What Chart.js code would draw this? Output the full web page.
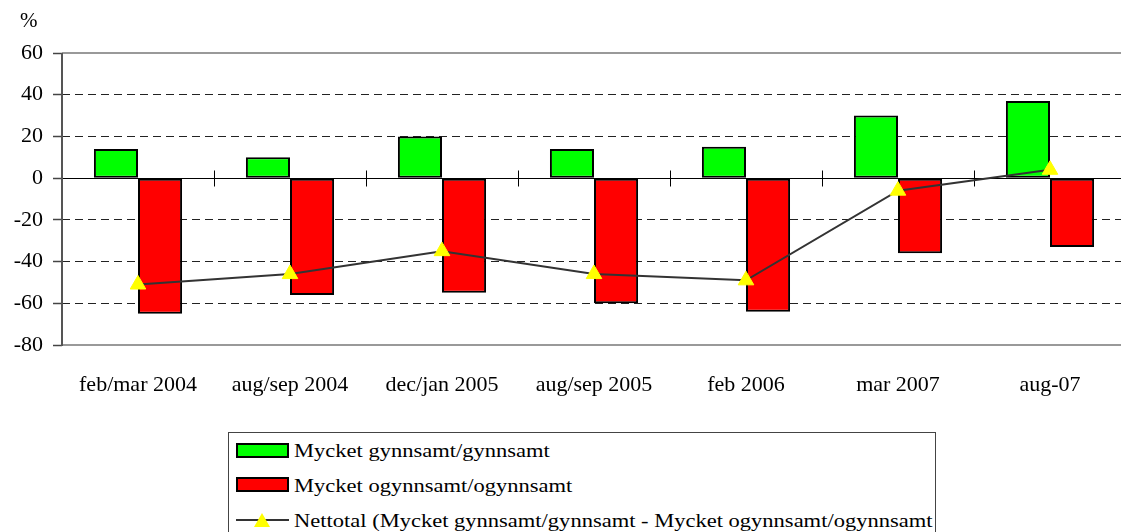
<!DOCTYPE html>
<html>
<head>
<meta charset="utf-8">
<script src="https://cdn.jsdelivr.net/npm/chart.js@4.4.0/dist/chart.umd.min.js"></script>
<style>
  html, body { margin: 0; padding: 0; background: #fff; overflow: hidden; width: 1121px; height: 532px; }
  #wrap { position: absolute; left: 0; top: 0; }
  .txt { position: absolute; font-family: "Liberation Serif", "Times New Roman", serif; color: #000; white-space: nowrap; }
  .leg { font-size: 19px; line-height: 20px; transform: scaleX(1.185); transform-origin: left center; }
  #legendBox { position: absolute; left: 228px; top: 432px; width: 708px; height: 120px; border: 1px solid #444; box-sizing: border-box; }
  .sw { position: absolute; left: 236px; width: 53px; height: 15px; border: 2px solid #000; box-sizing: border-box; }
  #swLine { position: absolute; left: 236px; top: 519px; width: 53px; height: 2px; background: #333; }
  #swTri { position: absolute; left: 254px; top: 513px; width: 0; height: 0; border-left: 8px solid transparent; border-right: 8px solid transparent; border-bottom: 14px solid #ffff00; }
</style>
</head>
<body>
<div id="wrap"><canvas id="grafico" width="1136" height="420"></canvas></div>

<div class="txt" style="left:20px; top:8px; font-size:21px; line-height:24px;">%</div>

<div id="legendBox"></div>
<div class="sw" style="top:443px; background:#00ff00;"></div>
<div class="txt leg" style="left:294px; top:441px;">Mycket gynnsamt/gynnsamt</div>
<div class="sw" style="top:477px; background:#ff0000;"></div>
<div class="txt leg" style="left:294px; top:476px;">Mycket ogynnsamt/ogynnsamt</div>
<div id="swLine"></div>
<div id="swTri"></div>
<div class="txt leg" style="left:294px; top:511px;">Nettotal (Mycket gynnsamt/gynnsamt - Mycket ogynnsamt/ogynnsamt</div>

<script>
// Datos del gráfico
var periodos = ["feb/mar 2004", "aug/sep 2004", "dec/jan 2005", "aug/sep 2005", "feb 2006", "mar 2007", "aug-07"];
var gynnsamt = [14, 10, 20, 14, 15, 30, 37];
var ogynnsamt = [-65, -56, -55, -60, -64, -36, -33];
var nettotal = [-51, -46, -35, -46, -49, -6, 4];
var yTicks = [60, 40, 20, 0, -20, -40, -60, -80];

var fuente = "'Liberation Serif', 'Times New Roman', serif";

// lineas especiales: borde arriba/abajo, linea del cero, marcas de categoria, eje izquierdo
var lineasPlugin = {
  id: "lineas",
  beforeDatasetsDraw: function (chart) {
    var ctx = chart.ctx;
    var area = chart.chartArea;
    var y = chart.scales.y;
    var x = chart.scales.x;
    ctx.save();

    // borde superior e inferior (gris)
    ctx.strokeStyle = "#999";
    ctx.lineWidth = 2;
    [yTicks[0], yTicks[yTicks.length - 1]].forEach(function (v) {
      var py = Math.round(y.getPixelForValue(v));
      ctx.beginPath();
      ctx.moveTo(area.left, py);
      ctx.lineTo(area.right, py);
      ctx.stroke();
    });

    // linea del cero
    var y0 = Math.round(y.getPixelForValue(0)) + 0.5;
    ctx.strokeStyle = "#000";
    ctx.lineWidth = 1;
    ctx.beginPath();
    ctx.moveTo(area.left, y0);
    ctx.lineTo(area.right, y0);
    ctx.stroke();

    // marcas entre categorias sobre el cero
    for (var i = 0; i < periodos.length - 1; i++) {
      var px = Math.round((x.getPixelForTick(i) + x.getPixelForTick(i + 1)) / 2) + 0.5;
      ctx.beginPath();
      ctx.moveTo(px, y0 - 8);
      ctx.lineTo(px, y0 + 8);
      ctx.stroke();
    }

    // eje izquierdo
    ctx.strokeStyle = "#555";
    ctx.lineWidth = 2;
    ctx.beginPath();
    ctx.moveTo(area.left, area.top);
    ctx.lineTo(area.left, area.bottom + 1);
    ctx.stroke();
    ctx.restore();
  }
};

new Chart(document.getElementById("grafico"), {
  type: "bar",
  data: {
    labels: periodos,
    datasets: [
      {
        type: "line",
        label: "Nettotal (Mycket gynnsamt/gynnsamt - Mycket ogynnsamt/ogynnsamt",
        data: nettotal,
        borderColor: "#333",
        borderWidth: 2,
        pointStyle: "triangle",
        pointRadius: 9,
        pointBackgroundColor: "#ffff00",
        pointBorderColor: "#ffff00",
        pointBorderWidth: 1,
        tension: 0,
        order: 0
      },
      {
        label: "Mycket gynnsamt/gynnsamt",
        data: gynnsamt,
        backgroundColor: "#00ff00",
        borderColor: "#000",
        borderWidth: 2,
        borderSkipped: false,
        order: 1
      },
      {
        label: "Mycket ogynnsamt/ogynnsamt",
        data: ogynnsamt,
        backgroundColor: "#ff0000",
        borderColor: "#000",
        borderWidth: 2,
        borderSkipped: false,
        order: 1
      }
    ]
  },
  options: {
    responsive: false,
    animation: false,
    datasets: { bar: { categoryPercentage: 0.58, barPercentage: 1.0 } },
    layout: { padding: { top: 53, left: 0, right: 0, bottom: 0 } },
    plugins: { legend: { display: false }, tooltip: { enabled: false } },
    scales: {
      x: {
        afterFit: function (scale) { scale.height = 75; },
        grid: { display: false, drawTicks: false },
        border: { display: false },
        ticks: { color: "#000", padding: 27, maxRotation: 0, font: { family: fuente, size: 22 } }
      },
      y: {
        min: -80,
        max: 60,
        afterFit: function (scale) { scale.width = 62; },
        afterBuildTicks: function (scale) {
          scale.ticks = yTicks.map(function (v) { return { value: v }; });
        },
        grid: {
          color: function (c) {
            var v = c.tick ? c.tick.value : null;
            return (v === 0 || v === 60 || v === -80) ? "rgba(0,0,0,0)" : "#222";
          },
          lineWidth: 1,
          tickLength: 9,
          tickColor: "#444",
          tickWidth: 1.5
        },
        border: { display: false, dash: [8, 5] },
        ticks: { color: "#000", padding: 10, font: { family: fuente, size: 22 } }
      }
    }
  },
  plugins: [lineasPlugin]
});
</script>
</body>
</html>
